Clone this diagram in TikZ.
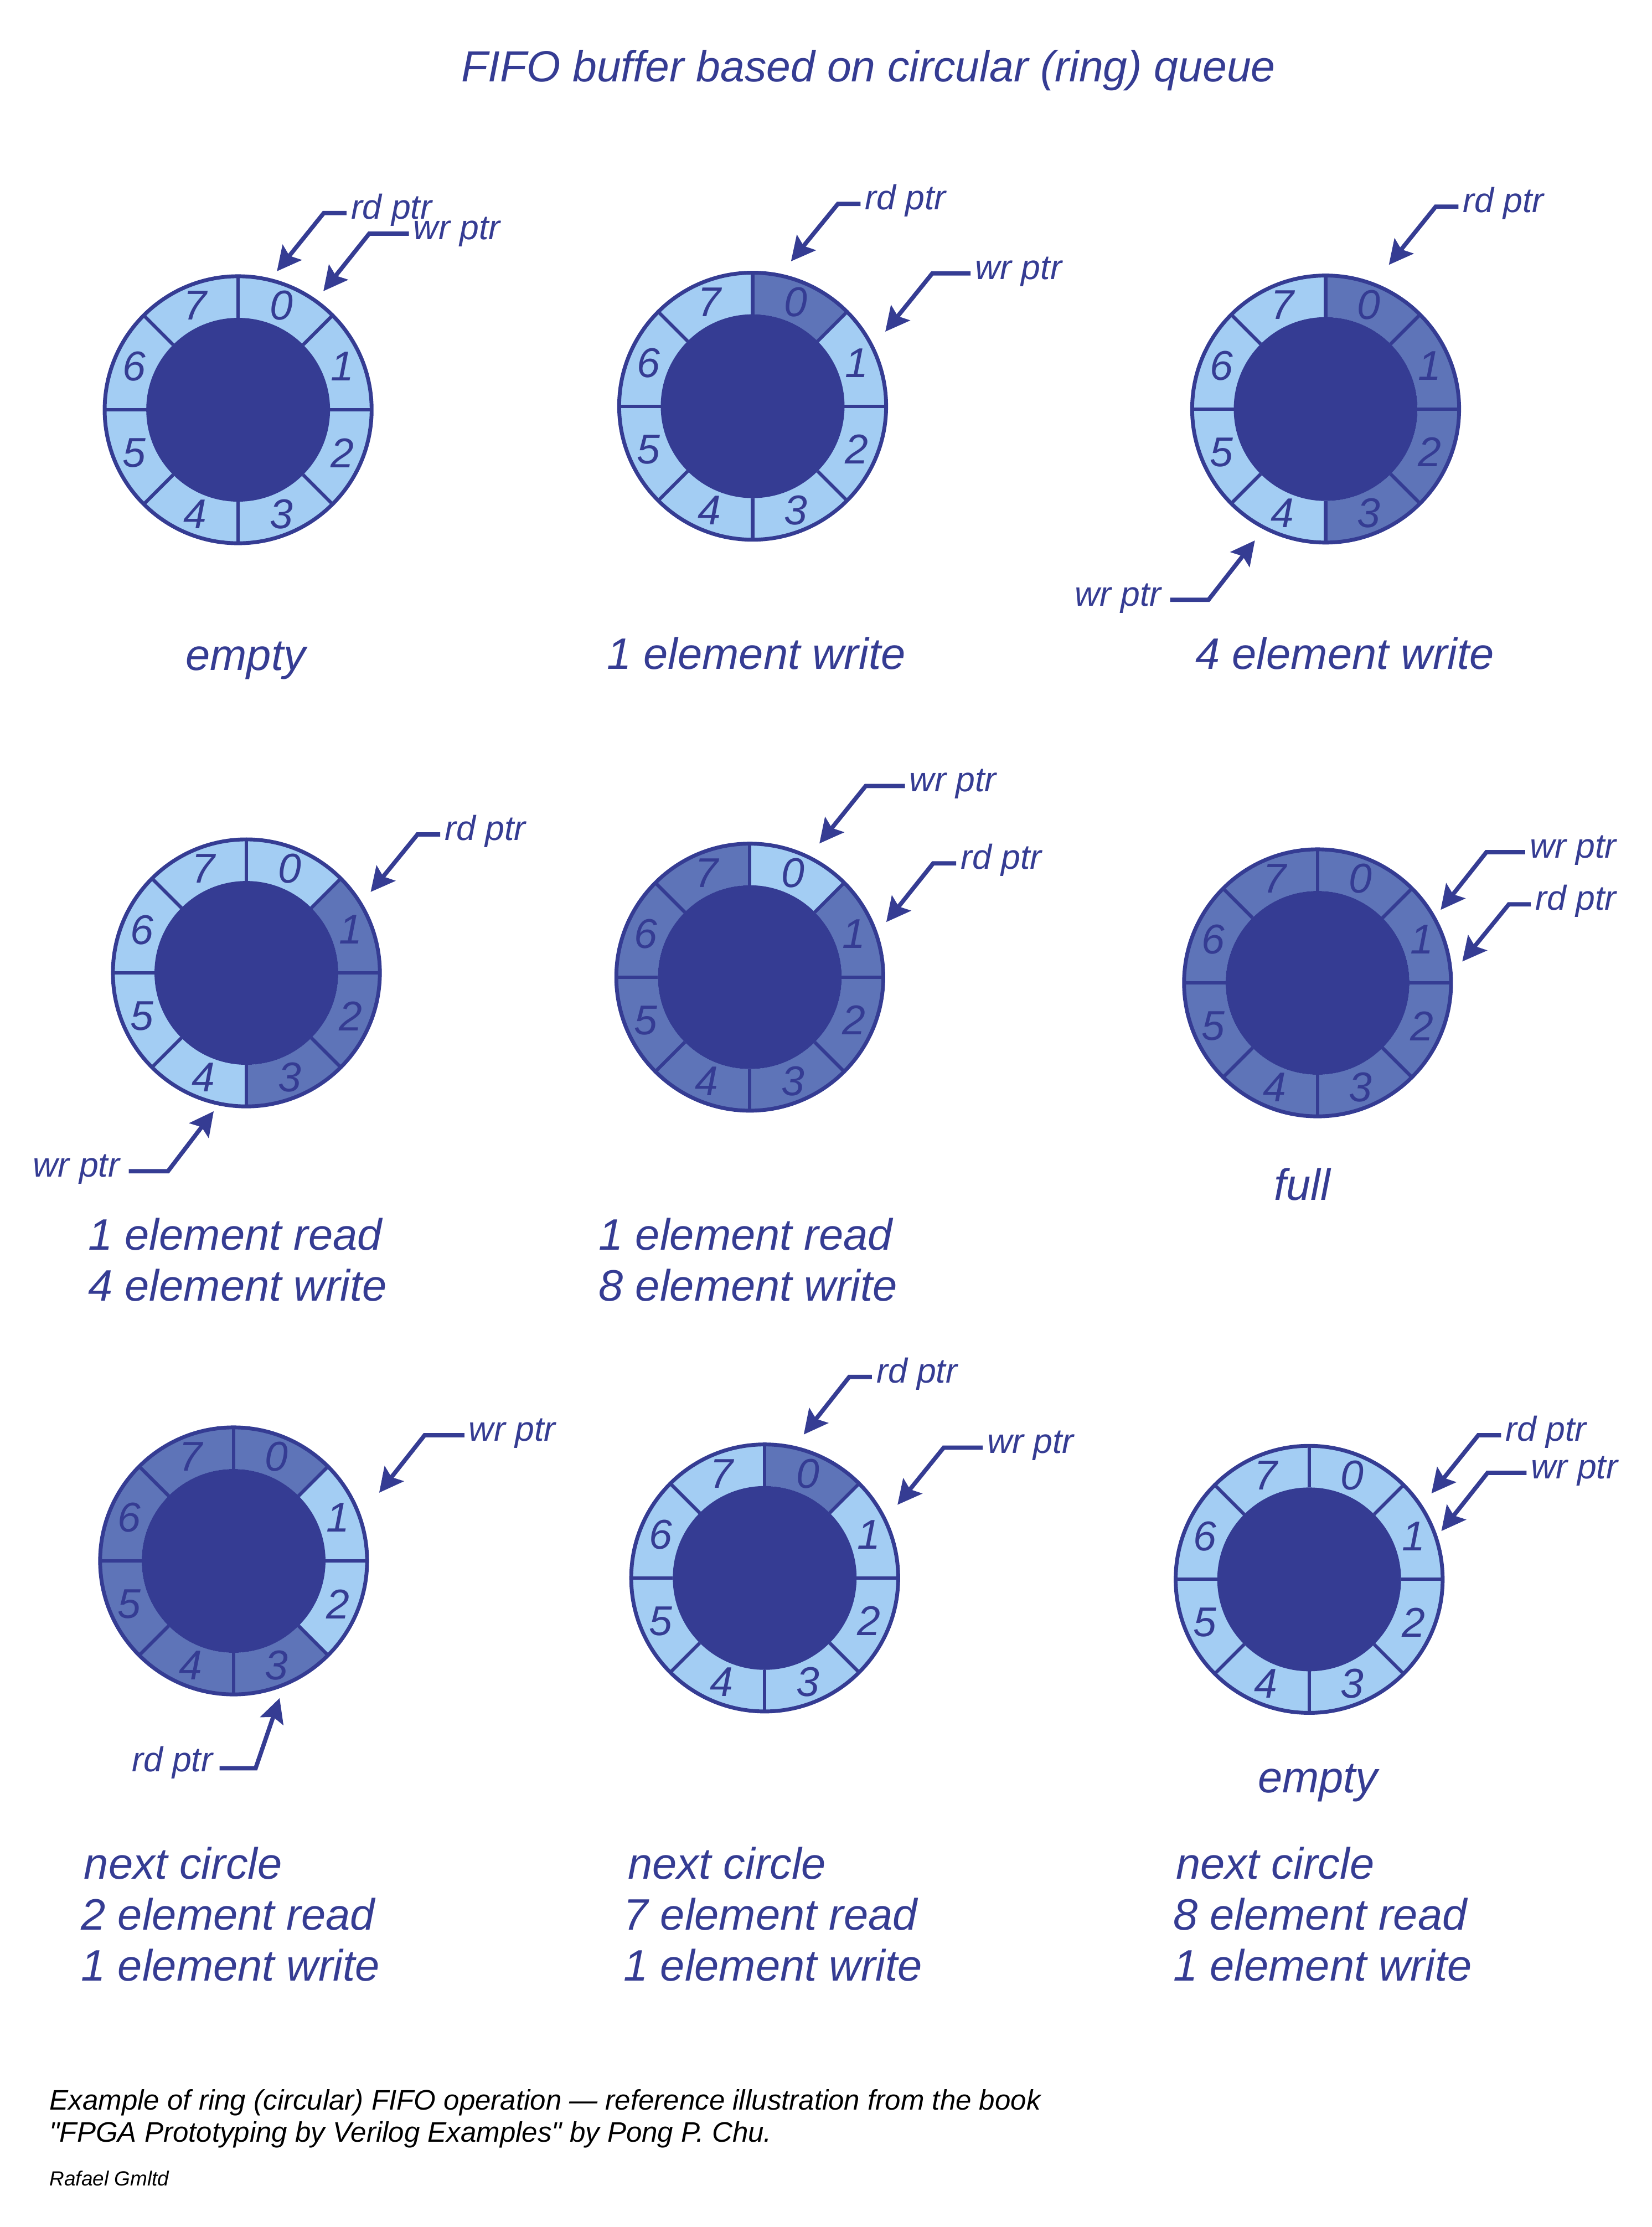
\documentclass[tikz,border=0pt]{standalone}
\usepackage{fontspec}
\setmainfont{Liberation Sans}[Ligatures=TeXOff]
\usepackage{tikz}
\usetikzlibrary{arrows.meta, calc}
\definecolor{ringblue}{RGB}{53, 60, 147}
\definecolor{slotlight}{RGB}{163, 205, 243}
\definecolor{slotmid}{RGB}{94, 116, 184}
\tikzset{
  ringline/.style={draw=ringblue, line width=2.4pt},
  ptrarrow/.style={-{Stealth[length=17pt, width=17pt, inset=3pt]}, line width=3pt,
              draw=ringblue},
  ptrlabel/.style={font=\fontsize{24.4}{28}\selectfont\itshape, text=ringblue,
              inner sep=0pt},
  caplabel/.style={font=\fontsize{31}{36}\selectfont\itshape, text=ringblue,
              inner sep=0pt},
  slotnum/.style={font=\fontsize{29.3}{32}\selectfont\itshape, text=ringblue,
              inner sep=0pt},
  titlelabel/.style={font=\fontsize{30.7}{34}\selectfont\itshape, text=ringblue,
              inner sep=0pt},
  notelabel/.style={font=\fontsize{19.9}{22}\selectfont\itshape, text=black,
              inner sep=0pt},
}
\newcommand{\ringR}{94}
\newcommand{\ringr}{64.7}
\newcommand{\numr}{79.4}
% #1 name, #2 x, #3 y, #4 slots 0..7 (1 = holds data)
\newcommand{\fiforing}[4]{%
  \begin{scope}[shift={(#2,#3)}, yscale=-1]
    \coordinate (#1) at (0,0);
    \fill[slotlight] (0,0) circle (\ringR);
    \foreach \used [count=\k from 0] in {#4}{
      \pgfmathsetmacro{\a}{45-45*\k}
      \pgfmathsetmacro{\b}{90-45*\k}
      \ifnum\used=1
        \fill[slotmid] (\a:\ringR) arc[start angle=\a, end angle=\b, radius=\ringR]
          -- (\b:\ringr) arc[start angle=\b, end angle=\a, radius=\ringr] -- cycle;
      \fi
    }
    \foreach \a in {0,45,...,315}
      \draw[ringline] (\a:\ringr) -- (\a:\ringR);
    \fill[ringblue] (0,0) circle (\ringr);
    \draw[ringline, line width=2.7pt] (0,0) circle (\ringR);
    \foreach \k in {0,...,7}{
      \pgfmathsetmacro{\m}{67.5-45*\k}
      \node[slotnum] (#1-\k) at (\m:\numr) {\k};
    }
  \end{scope}}

\begin{document}
\begin{tikzpicture}[x=1pt, y=-1pt]
  \useasboundingbox (0,0) rectangle (1163,1568);
  \fill[white] (0,0) rectangle (1163,1568);
  % Title
  \node[titlelabel, anchor=base] (title) at (611.5,57.6)
    {FIFO buffer based on circular (ring) queue};

  % Row 1
  \fiforing{r1}{167.7}{288.5}{0,0,0,0,0,0,0,0}
  \fiforing{r2}{530}{286}{1,0,0,0,0,0,0,0}
  \fiforing{r3}{933.5}{288}{1,1,1,1,0,0,0,0}
  \node[caplabel, anchor=base] (cap1) at (173,472) {empty};
  \node[caplabel, anchor=base] (cap2) at (532.5,471) {1 element write};
  \node[caplabel, anchor=base] (cap3) at (947,471) {4 element write};

  % Row 2
  \fiforing{r4}{173.5}{685}{0,1,1,1,0,0,0,0}
  \fiforing{r5}{528}{688}{0,1,1,1,1,1,1,1}
  \fiforing{r6}{927.8}{692}{1,1,1,1,1,1,1,1}
  \node[caplabel, anchor=base west] (cap4a) at (62,880) {1 element read};
  \node[caplabel, anchor=base west] (cap4b) at (62,916) {4 element write};
  \node[caplabel, anchor=base west] (cap5a) at (421.5,880) {1 element read};
  \node[caplabel, anchor=base west] (cap5b) at (421.5,916) {8 element write};
  \node[caplabel, anchor=base] (cap6) at (917,845) {full};

  % Row 3
  \fiforing{r7}{164.5}{1099}{1,0,0,1,1,1,1,1}
  \fiforing{r8}{538.5}{1111}{1,0,0,0,0,0,0,0}
  \fiforing{r9}{921.9}{1112}{0,0,0,0,0,0,0,0}
  \node[caplabel, anchor=base] (cap9) at (928,1262) {empty};
  \node[caplabel, anchor=base west] (cap7a) at (59,1323) {next circle};
  \node[caplabel, anchor=base west] (cap7b) at (57,1359) {2 element read};
  \node[caplabel, anchor=base west] (cap7c) at (57,1394.5) {1 element write};
  \node[caplabel, anchor=base west] (cap8a) at (442,1323) {next circle};
  \node[caplabel, anchor=base west] (cap8b) at (439,1359) {7 element read};
  \node[caplabel, anchor=base west] (cap8c) at (439,1394.5) {1 element write};
  \node[caplabel, anchor=base west] (cap9a) at (828,1323) {next circle};
  \node[caplabel, anchor=base west] (cap9b) at (826,1359) {8 element read};
  \node[caplabel, anchor=base west] (cap9c) at (826,1394.5) {1 element write};

  % Pointers
  \node[ptrlabel, anchor=base west] (r1rd) at (247,154) {rd ptr};
  \coordinate (r1rdtip) at (195,191);
  \draw[ptrarrow] ([shift={(-3,-4)}]r1rd.base west) -- ++(-16,0) -- (r1rdtip);
  \node[ptrlabel, anchor=base west] (r1wr) at (291,168.5) {wr ptr};
  \coordinate (r1wrtip) at (227.7,205);
  \draw[ptrarrow] ([shift={(-3,-4)}]r1wr.base west) -- ++(-28,0) -- (r1wrtip);

  \node[ptrlabel, anchor=base west] (r2rd) at (609,147.6) {rd ptr};
  \coordinate (r2rdtip) at (557,184);
  \draw[ptrarrow] ([shift={(-3,-4)}]r2rd.base west) -- ++(-16,0) -- (r2rdtip);
  \node[ptrlabel, anchor=base west] (r2wr) at (686.5,196.5) {wr ptr};
  \coordinate (r2wrtip) at (623.4,233.5);
  \draw[ptrarrow] ([shift={(-3,-4)}]r2wr.base west) -- ++(-27,0) -- (r2wrtip);

  \node[ptrlabel, anchor=base west] (r3rd) at (1030,149.5) {rd ptr};
  \coordinate (r3rdtip) at (978,186.5);
  \draw[ptrarrow] ([shift={(-3,-4)}]r3rd.base west) -- ++(-16,0) -- (r3rdtip);
  \node[ptrlabel, anchor=base east] (r3wr) at (818,426.5) {wr ptr};
  \coordinate (r3wrtip) at (883.7,380.5);
  \draw[ptrarrow] ([shift={(6,-4.2)}]r3wr.base east) -- ++(27,0) -- (r3wrtip);

  \node[ptrlabel, anchor=base west] (r4rd) at (313,591.5) {rd ptr};
  \coordinate (r4rdtip) at (261,628);
  \draw[ptrarrow] ([shift={(-3,-4)}]r4rd.base west) -- ++(-16,0) -- (r4rdtip);
  \node[ptrlabel, anchor=base east] (r4wr) at (84.5,828.6) {wr ptr};
  \coordinate (r4wrtip) at (150.5,782.4);
  \draw[ptrarrow] ([shift={(6.2,-4)}]r4wr.base east) -- ++(27.6,0) -- (r4wrtip);

  \node[ptrlabel, anchor=base west] (r5wr) at (640.3,557.4) {wr ptr};
  \coordinate (r5wrtip) at (577,593.9);
  \draw[ptrarrow] ([shift={(-3,-4)}]r5wr.base west) -- ++(-27.7,0) -- (r5wrtip);
  \node[ptrlabel, anchor=base west] (r5rd) at (676.3,611.9) {rd ptr};
  \coordinate (r5rdtip) at (624.1,649.2);
  \draw[ptrarrow] ([shift={(-3,-4)}]r5rd.base west) -- ++(-16.2,0) -- (r5rdtip);

  \node[ptrlabel, anchor=base west] (r6wr) at (1077,604) {wr ptr};
  \coordinate (r6wrtip) at (1014.5,640.6);
  \draw[ptrarrow] ([shift={(-3,-4)}]r6wr.base west) -- ++(-27.3,0) -- (r6wrtip);
  \node[ptrlabel, anchor=base west] (r6rd) at (1081,640.7) {rd ptr};
  \coordinate (r6rdtip) at (1029.7,677);
  \draw[ptrarrow] ([shift={(-3,-4)}]r6rd.base west) -- ++(-15.5,0) -- (r6rdtip);

  \node[ptrlabel, anchor=base west] (r7wr) at (330,1014.5) {wr ptr};
  \coordinate (r7wrtip) at (267,1051);
  \draw[ptrarrow] ([shift={(-3,-4)}]r7wr.base west) -- ++(-28,0) -- (r7wrtip);
  \node[ptrlabel, anchor=base east] (r7rd) at (150,1247.5) {rd ptr};
  \coordinate (r7rdtip) at (196.9,1195.6);
  \draw[ptrarrow] ([shift={(4.6,-2.5)}]r7rd.base east) -- ++(25.4,0) -- (r7rdtip);

  \node[ptrlabel, anchor=base west] (r8rd) at (617,973.5) {rd ptr};
  \coordinate (r8rdtip) at (566,1010);
  \draw[ptrarrow] ([shift={(-3,-4)}]r8rd.base west) -- ++(-16,0) -- (r8rdtip);
  \node[ptrlabel, anchor=base west] (r8wr) at (695,1023.3) {wr ptr};
  \coordinate (r8wrtip) at (632,1059.5);
  \draw[ptrarrow] ([shift={(-3,-4)}]r8wr.base west) -- ++(-27.5,0) -- (r8wrtip);

  \node[ptrlabel, anchor=base west] (r9rd) at (1060,1014.5) {rd ptr};
  \coordinate (r9rdtip) at (1008,1051.5);
  \draw[ptrarrow] ([shift={(-3,-4)}]r9rd.base west) -- ++(-16,0) -- (r9rdtip);
  \node[ptrlabel, anchor=base west] (r9wr) at (1078,1041) {wr ptr};
  \coordinate (r9wrtip) at (1015,1078);
  \draw[ptrarrow] ([shift={(-3,-4)}]r9wr.base west) -- ++(-27.5,0) -- (r9wrtip);

  % Note
  \node[notelabel, anchor=base west] (note1) at (34.8,1485.5)
    {Example of ring (circular) FIFO operation — reference illustration from the book};
  \node[notelabel, anchor=base west] (note2) at (34.8,1508)
    {"FPGA Prototyping by Verilog Examples" by Pong P. Chu.};
  \node[notelabel, font=\fontsize{14.4}{16}\selectfont\itshape, anchor=base west]
    (author) at (34.8,1539) {Rafael Gmltd};
\end{tikzpicture}
\end{document}
